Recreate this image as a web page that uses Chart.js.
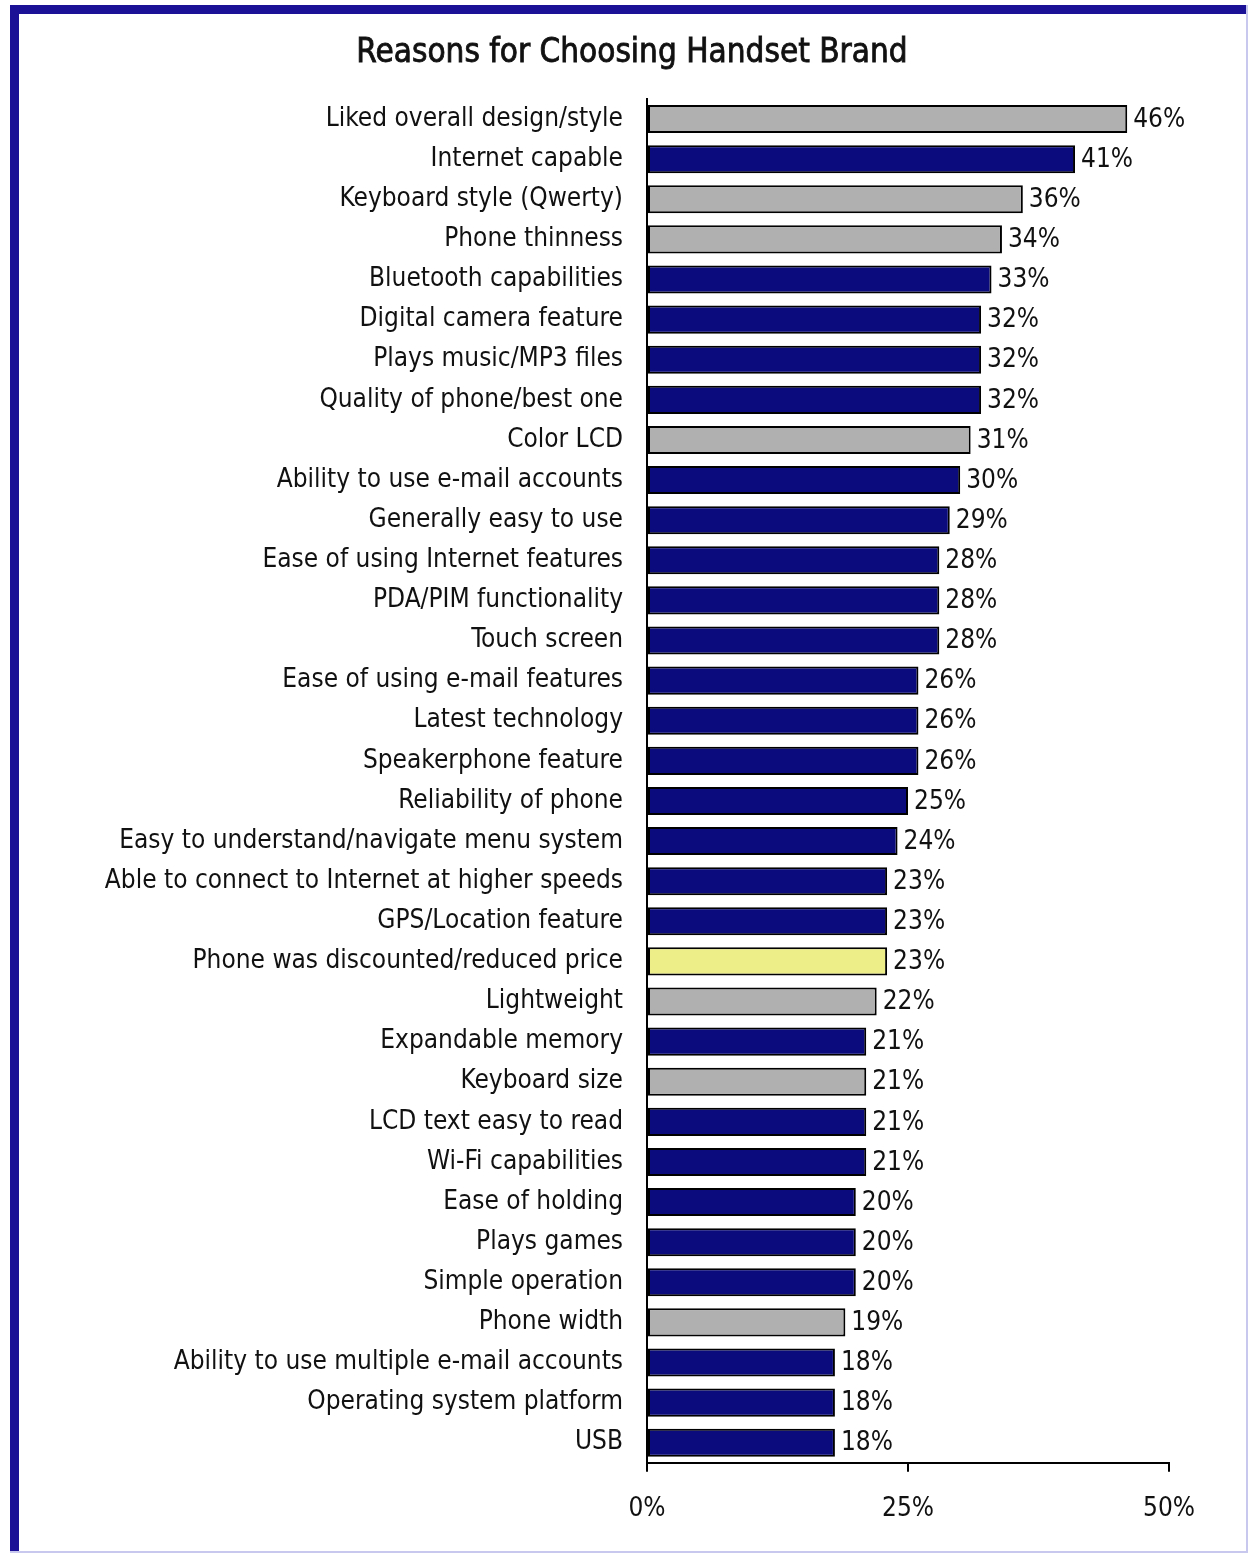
<!DOCTYPE html>
<html>
<head>
<meta charset="utf-8">
<script src="https://cdn.jsdelivr.net/npm/chart.js@4.4.1/dist/chart.umd.min.js"></script>
<style>
  html, body { margin: 0; padding: 0; background: #fff; }
  #wrap { width: 1248px; height: 1553px; position: relative; }
</style>
</head>
<body>
<div id="wrap"><canvas id="grafico"></canvas></div>
<script>
// Dados do gráfico
const titulo = 'Reasons for Choosing Handset Brand';
const categorias = [
  'Liked overall design/style', 'Internet capable', 'Keyboard style (Qwerty)', 'Phone thinness',
  'Bluetooth capabilities', 'Digital camera feature', 'Plays music/MP3 files', 'Quality of phone/best one',
  'Color LCD', 'Ability to use e-mail accounts', 'Generally easy to use', 'Ease of using Internet features',
  'PDA/PIM functionality', 'Touch screen', 'Ease of using e-mail features', 'Latest technology',
  'Speakerphone feature', 'Reliability of phone', 'Easy to understand/navigate menu system',
  'Able to connect to Internet at higher speeds', 'GPS/Location feature', 'Phone was discounted/reduced price',
  'Lightweight', 'Expandable memory', 'Keyboard size', 'LCD text easy to read', 'Wi-Fi capabilities',
  'Ease of holding', 'Plays games', 'Simple operation', 'Phone width',
  'Ability to use multiple e-mail accounts', 'Operating system platform', 'USB'
];
const valores = [46, 41, 36, 34, 33, 32, 32, 32, 31, 30, 29, 28, 28, 28, 26, 26, 26, 25, 24, 23, 23, 23, 22, 21, 21, 21, 21, 20, 20, 20, 19, 18, 18, 18];
// grupo de cada barra: d = design, t = tecnologia, p = preço
const grupos = ['d', 't', 'd', 'd', 't', 't', 't', 't', 'd', 't', 't', 't', 't', 't', 't', 't', 't', 't', 't', 't', 't', 'p', 'd', 't', 'd', 't', 't', 't', 't', 't', 'd', 't', 't', 't'];
const ticksX = [0, 25, 50];

const corGrupo = { d: '#b0b0b0', t: '#0b0b7e', p: '#eeee88' };
const fonte = '"Liberation Sans Narrow", "DejaVu Sans Condensed", "Liberation Sans", sans-serif';

// Moldura azul + título
const moldura = {
  id: 'moldura',
  beforeDraw(chart) {
    const c = chart.ctx;
    c.save();
    c.fillStyle = '#ffffff';
    c.fillRect(0, 0, chart.width, chart.height);
    c.fillStyle = '#1a1196';
    c.fillRect(10, 5, chart.width - 10, 9);
    c.fillRect(10, 5, 9, chart.height - 5);
    c.fillStyle = '#c8c8ee';
    c.fillRect(chart.width - 2, 5, 2, chart.height - 5);
    c.fillRect(10, chart.height - 2, chart.width - 10, 2);

    // título um pouco mais encorpado
    c.font = '33px ' + fonte;
    c.fillStyle = '#111';
    c.strokeStyle = '#111';
    c.lineWidth = 0.8;
    c.textAlign = 'center';
    c.textBaseline = 'middle';
    c.fillText(titulo, 632, 53);
    c.strokeText(titulo, 632, 53);
    c.restore();
  }
};

// Rótulos de valor no fim das barras
const rotulos = {
  id: 'rotulos',
  afterDatasetsDraw(chart) {
    const c = chart.ctx;
    const meta = chart.getDatasetMeta(0);
    c.save();
    c.font = '26px ' + fonte;
    c.fillStyle = '#111';
    c.textBaseline = 'middle';
    c.textAlign = 'left';
    meta.data.forEach((bar, i) => {
      c.fillText(valores[i] + '%', bar.x + 6, bar.y + 1);
    });
    c.restore();
  }
};

const ctx = document.getElementById('grafico').getContext('2d');
new Chart(ctx, {
  type: 'bar',
  data: {
    labels: categorias,
    datasets: [{
      data: valores,
      backgroundColor: grupos.map(g => corGrupo[g]),
      borderColor: '#000',
      borderWidth: 2,
      borderSkipped: false,
      barPercentage: 0.7,
      categoryPercentage: 1
    }]
  },
  options: {
    indexAxis: 'y',
    responsive: true,
    maintainAspectRatio: false,
    animation: false,
    layout: { padding: { left: 0, right: 79, top: 99, bottom: 6 } },
    plugins: {
      legend: { display: false },
      tooltip: { enabled: false },
      title: { display: false }
    },
    scales: {
      x: {
        min: 0,
        max: 50,
        afterBuildTicks: (scale) => { scale.ticks = ticksX.map(v => ({ value: v })); },
        grid: { drawOnChartArea: false, drawTicks: true, tickLength: 9, color: '#000', lineWidth: 2 },
        border: { display: true, color: '#000', width: 2 },
        ticks: {
          padding: 22,
          color: '#111',
          font: { family: fonte, size: 26 },
          callback: (v) => v + '%'
        }
      },
      y: {
        afterFit: (scale) => { scale.width = 647; },
        grid: { display: false },
        border: { display: true, color: '#000', width: 2 },
        ticks: {
          padding: 16,
          color: '#111',
          font: { family: fonte, size: 26 },
          autoSkip: false
        }
      }
    }
  },
  plugins: [moldura, rotulos]
});
</script>
</body>
</html>
